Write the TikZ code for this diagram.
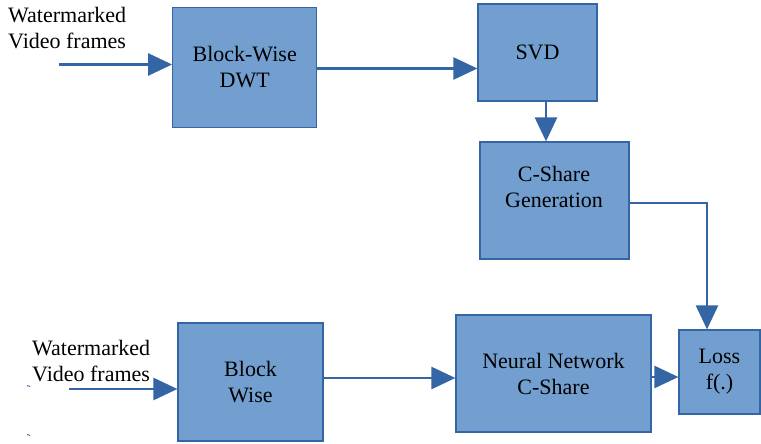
\documentclass[tikz,border=0pt]{standalone}
\usepackage{fontspec}
\setmainfont{Liberation Serif}
\usetikzlibrary{arrows.meta}
\definecolor{boxfill}{HTML}{729FCF}
\definecolor{boxline}{HTML}{3465A4}
\begin{document}
\begin{tikzpicture}[x=1bp,y=-1bp,
  box/.style={draw=boxline, fill=boxfill, line width=1.2bp, inner sep=0pt,
    align=center, text=black, font=\fontsize{22bp}{26bp}\selectfont},
  lbl/.style={inner sep=0pt, text=black, font=\fontsize{22bp}{26bp}\selectfont},
  arr/.style={draw=boxline, line width=2.6bp, -{Triangle[length=24bp,width=22bp]}}]
\useasboundingbox (0,0) rectangle (761,444);

\node[box, minimum width=144bp, minimum height=120bp] (dwt) at (244.7,67.3) {Block-Wise\\DWT};
\node[box, minimum width=119bp, minimum height=97bp] (svd) at (537.5,52.5) {SVD};
\node[box, minimum width=149bp, minimum height=117bp] (csg) at (554.5,200.5) {};
\node[lbl, align=center] (csgtext) at (554,187) {C-Share\\Generation};
\node[box, minimum width=145bp, minimum height=118bp] (bw) at (250.5,382) {Block\\Wise};
\node[box, minimum width=195bp, minimum height=117bp] (nn) at (553.5,373.5) {Neural Network\\C-Share};
\node[box, minimum width=81bp, minimum height=84bp] (loss) at (719.5,372) {Loss\\f(.)};

\node[lbl, align=left, anchor=north west] (intext1) at (8,7) {Watermarked\\Video frames};
\node[lbl, align=left, anchor=north west] (intext2) at (32,340) {Watermarked\\Video frames};

\coordinate (in1) at (59,64.5);
\coordinate (in2) at (69,389);
\coordinate (turn) at (707,203);

\draw[arr] (in1) -- (in1 -| dwt.west);
\draw[arr] (dwt.east |- 0,68.5) -- (svd.west |- 0,68.5);
\draw[arr] (svd.south -| 546,0) -- (csg.north -| 546,0);
\draw[arr] (csg.east |- turn) -- (turn) -- (loss.north -| turn);
\draw[arr] (in2) -- (in2 -| bw.west);
\draw[arr] (bw.east |- 0,378) -- (nn.west |- 0,378);
\draw[arr] (nn.east |- 0,377) -- (loss.west |- 0,377);

\draw[boxline, line width=0.8bp] (27,385.5) -- (30,386.5);
\draw[boxline, line width=0.8bp] (27,434.5) -- (30,435.5);
\end{tikzpicture}
\end{document}
